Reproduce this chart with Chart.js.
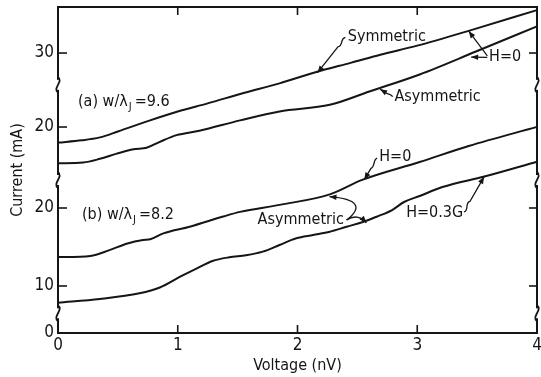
<!DOCTYPE html>
<html>
<head>
<meta charset="utf-8">
<script src="https://cdn.jsdelivr.net/npm/chart.js@4.4.0/dist/chart.umd.min.js"></script>
<style>
  html, body { margin: 0; padding: 0; background: #fff; }
</style>
</head>
<body>
<canvas id="ivChart" width="541" height="377"></canvas>
<script>
// (a) w/lambda_J = 9.6, zero field
const symVolt = [0, 0.2, 0.35, 0.5, 0.75, 1.0, 1.25, 1.55, 1.85, 2.15, 2.45, 2.7, 3.0, 3.45, 4.0];
const symCurr = [17.9, 18.2, 18.6, 19.4, 20.8, 22.1, 23.2, 24.6, 25.9, 27.4, 28.7, 29.8, 31.0, 33.1, 35.8];
const asymVoltA = [0, 0.21, 0.35, 0.49, 0.63, 0.74, 0.85, 0.99, 1.18, 1.52, 1.85, 2.27, 2.6, 3.02, 3.49, 4.0];
const asymCurrA = [15.1, 15.2, 15.7, 16.4, 17.0, 17.2, 18.0, 18.9, 19.5, 20.9, 22.1, 23.0, 24.8, 27.1, 30.2, 33.6];

// (b) w/lambda_J = 8.2, asymmetric junction at H=0 and H=0.3G
const zeroVoltB = [0, 0.27, 0.43, 0.58, 0.71, 0.77, 0.88, 1.1, 1.38, 1.52, 1.85, 2.27, 2.54, 3.02, 3.43, 4.0];
const zeroCurrB = [13.7, 13.85, 14.6, 15.45, 15.9, 16.0, 16.75, 17.6, 18.9, 19.5, 20.4, 21.75, 23.6, 25.9, 27.95, 30.4];
const fieldVoltB = [0, 0.35, 0.68, 0.85, 1.02, 1.16, 1.29, 1.43, 1.57, 1.71, 1.85, 1.99, 2.13, 2.27, 2.41, 2.54, 2.66, 2.79, 2.89, 3.02, 3.21, 3.56, 4.0];
const fieldCurrB = [7.86, 8.33, 9.06, 9.81, 11.19, 12.27, 13.21, 13.68, 13.94, 14.4, 15.26, 16.12, 16.54, 16.96, 17.6, 18.17, 18.88, 19.74, 20.77, 21.54, 22.69, 24.04, 25.94];

// axis ticks
const voltTicks = [0, 1, 2, 3, 4];
const upperTicks = [20, 30];
const lowerTicks = [10, 20];
const lowerBreakLabel = '0';
const upperRightTicks = [30];
const lowerRightTicks = [10, 20];

const ink = '#151515';
const family = "'DejaVu Sans Condensed', 'DejaVu Sans', sans-serif";
const noteSize = 16;

const toPoints = (xs, ys) => xs.map((v, k) => ({ x: v, y: ys[k] }));

const lineStyle = {
  borderColor: ink,
  borderWidth: 2,
  pointRadius: 0,
  fill: false,
  cubicInterpolationMode: 'monotone',
  clip: false
};

// labels with leader arrows, in volts / mA of the given axis
const notes = [
  { axis: 'yTop', v: 2.42, i: 32.15, text: 'Symmetric',
    leaders: [{ from: [2.40, 32.1], tip: [2.167, 27.35], curl: 4 }] },
  { axis: 'yTop', v: 3.6, i: 29.45, text: 'H=0',
    leaders: [{ from: [3.585, 29.6], tip: [3.43, 32.95] }, { from: [3.585, 29.4], tip: [3.45, 29.45] }] },
  { axis: 'yTop', v: 2.81, i: 24.1, text: 'Asymmetric',
    leaders: [{ from: [2.795, 24.1], tip: [2.69, 25.1], curl: 2 }] },
  { axis: 'yBot', v: 2.683, i: 26.5, text: 'H=0',
    leaders: [{ from: [2.665, 26.4], tip: [2.558, 23.65], curl: 3 }] },
  { axis: 'yBot', v: 1.667, i: 18.46, text: 'Asymmetric',
    leaders: [{ from: [2.41, 18.45], via: [2.62, 21.0], tip: [2.267, 21.45] },
              { from: [2.41, 18.45], via: [2.5, 19.4], tip: [2.575, 18.1] }] },
  { axis: 'yBot', v: 2.908, i: 19.36, text: 'H=0.3G',
    leaders: [{ from: [3.39, 19.5], tip: [3.558, 24.0], curl: 4 }] }
];

// where the current axis is broken (left and right edges)
const axisBreaks = [{ axis: 'yTop', value: 25.7 }, { axis: 'yTop', value: 12.84 }, { axis: 'yBot', value: 6.5 }];

function seg(ctx, x1, y1, x2, y2) {
  ctx.beginPath();
  ctx.moveTo(x1, y1);
  ctx.lineTo(x2, y2);
  ctx.stroke();
}

function arrowHead(ctx, from, tip) {
  const ang = Math.atan2(tip.y - from.y, tip.x - from.x);
  const len = 7, half = 2.8;
  const bx = tip.x - len * Math.cos(ang), by = tip.y - len * Math.sin(ang);
  ctx.beginPath();
  ctx.moveTo(tip.x, tip.y);
  ctx.lineTo(bx + half * Math.sin(ang), by - half * Math.cos(ang));
  ctx.lineTo(bx - half * Math.sin(ang), by + half * Math.cos(ang));
  ctx.closePath();
  ctx.fill();
}

function leader(ctx, from, tip, via, curl) {
  ctx.beginPath();
  ctx.moveTo(from.x, from.y);
  let start = from;
  if (curl) {
    const dx = tip.x - from.x, dy = tip.y - from.y, d = Math.hypot(dx, dy);
    const ux = dx / d, uy = dy / d, nx = -uy, ny = ux, c = 12;
    start = { x: from.x + ux * c, y: from.y + uy * c };
    ctx.bezierCurveTo(from.x + ux * c * 0.3 + nx * curl, from.y + uy * c * 0.3 + ny * curl,
                      from.x + ux * c * 0.7 - nx * curl, from.y + uy * c * 0.7 - ny * curl,
                      start.x, start.y);
  }
  if (via) {
    ctx.quadraticCurveTo(via.x, via.y, tip.x, tip.y);
    ctx.stroke();
    arrowHead(ctx, via, tip);
  } else {
    ctx.lineTo(tip.x, tip.y);
    ctx.stroke();
    arrowHead(ctx, start, tip);
  }
}

function axisBreak(ctx, px, py) {
  ctx.fillStyle = '#fff';
  ctx.fillRect(px - 4, py - 5, 8, 10);
  ctx.beginPath();
  ctx.moveTo(px, py - 8);
  ctx.bezierCurveTo(px + 6, py - 3, px - 6, py + 3, px, py + 8);
  ctx.stroke();
  ctx.fillStyle = ink;
}

const decorations = {
  id: 'decorations',
  afterDraw(chart) {
    const { ctx, chartArea: a, scales } = chart;
    const { x } = scales;
    ctx.save();
    ctx.strokeStyle = ink;
    ctx.fillStyle = ink;

    // top and right edges of the frame
    ctx.lineWidth = 2;
    ctx.beginPath();
    ctx.moveTo(a.left - 1, a.top);
    ctx.lineTo(a.right, a.top);
    ctx.lineTo(a.right, a.bottom + 1);
    ctx.stroke();

    // inward tick marks
    ctx.lineWidth = 1.6;
    voltTicks.slice(1, -1).forEach(v => {
      const px = x.getPixelForValue(v);
      seg(ctx, px, a.bottom, px, a.bottom - 8);
      seg(ctx, px, a.top, px, a.top + 8);
    });
    upperTicks.forEach(v => {
      const py = scales.yTop.getPixelForValue(v);
      seg(ctx, a.left, py, a.left + 9, py);
    });
    lowerTicks.forEach(v => {
      const py = scales.yBot.getPixelForValue(v);
      seg(ctx, a.left, py, a.left + 9, py);
    });
    upperRightTicks.forEach(v => {
      const py = scales.yTop.getPixelForValue(v);
      seg(ctx, a.right, py, a.right - 8, py);
    });
    lowerRightTicks.forEach(v => {
      const py = scales.yBot.getPixelForValue(v);
      seg(ctx, a.right, py, a.right - 8, py);
    });

    // axis breaks
    ctx.lineWidth = 1.8;
    axisBreaks.forEach(b => {
      const py = scales[b.axis].getPixelForValue(b.value);
      axisBreak(ctx, a.left, py);
      axisBreak(ctx, a.right, py);
    });

    // current axis title
    ctx.font = '16px ' + family;
    ctx.textAlign = 'center';
    ctx.textBaseline = 'middle';
    ctx.save();
    ctx.translate(18, (a.top + a.bottom) / 2);
    ctx.rotate(-Math.PI / 2);
    ctx.fillText('Current (mA)', 0, 0);
    ctx.restore();

    // panel captions
    ctx.textAlign = 'left';
    [['(a)', 'yTop', 0.167, 23.38, '=9.6'], ['(b)', 'yBot', 0.2, 19.1, '=8.2']].forEach(([tag, axis, v, i, rest]) => {
      let px = x.getPixelForValue(v);
      const py = scales[axis].getPixelForValue(i);
      ctx.font = noteSize + 'px ' + family;
      const head = tag + ' w/\u03bb';
      ctx.fillText(head, px, py);
      px += ctx.measureText(head).width;
      ctx.font = '11px ' + family;
      ctx.fillText('J', px + 1, py + 5);
      px += ctx.measureText('J').width + 4;
      ctx.font = noteSize + 'px ' + family;
      ctx.fillText(rest, px, py);
    });

    // curve labels and their arrows
    ctx.lineWidth = 1.3;
    notes.forEach(n => {
      const ys = scales[n.axis];
      ctx.font = noteSize + 'px ' + family;
      ctx.fillText(n.text, x.getPixelForValue(n.v), ys.getPixelForValue(n.i));
      const pt = p => p && { x: x.getPixelForValue(p[0]), y: ys.getPixelForValue(p[1]) };
      n.leaders.forEach(l => leader(ctx, pt(l.from), pt(l.tip), pt(l.via), l.curl));
    });

    ctx.restore();
  }
};

const tickFont = { family: family, size: 17 };

// keep the plot frame where the layout puts it, without room reserved for end labels
const fixWidth = s => { s.width = 54; s.paddingTop = 0; s.paddingBottom = 0; };

new Chart(document.getElementById('ivChart'), {
  type: 'line',
  data: {
    datasets: [
      { label: 'Symmetric (a)', data: toPoints(symVolt, symCurr), yAxisID: 'yTop', ...lineStyle },
      { label: 'Asymmetric (a)', data: toPoints(asymVoltA, asymCurrA), yAxisID: 'yTop', ...lineStyle },
      { label: 'Asymmetric H=0 (b)', data: toPoints(zeroVoltB, zeroCurrB), yAxisID: 'yBot', ...lineStyle },
      { label: 'Asymmetric H=0.3G (b)', data: toPoints(fieldVoltB, fieldCurrB), yAxisID: 'yBot', ...lineStyle }
    ]
  },
  options: {
    responsive: false,
    animation: false,
    layout: { padding: { left: 4, right: 4, top: 7, bottom: 0 } },
    plugins: { legend: { display: false }, tooltip: { enabled: false } },
    scales: {
      x: {
        type: 'linear',
        min: 0,
        max: 4,
        afterBuildTicks: s => { s.ticks = voltTicks.map(v => ({ value: v })); },
        afterFit: s => { s.height = 44; s.paddingLeft = 0; s.paddingRight = 0; },
        ticks: { color: ink, font: tickFont, padding: 2, maxRotation: 0 },
        grid: { display: false, drawTicks: false },
        border: { color: ink, width: 2 },
        title: { display: true, text: 'Voltage (nV)', color: ink, font: { family: family, size: 16 }, padding: { top: 0, bottom: 2 } }
      },
      // stacked axes are laid out bottom-up, so the lower panel comes first
      yBot: {
        type: 'linear',
        position: 'left',
        stack: 'current',
        stackWeight: 153,
        min: 3.97,
        max: 23.59,
        afterBuildTicks: s => { s.ticks = [{ value: s.min }].concat(lowerTicks.map(v => ({ value: v }))); },
        afterFit: fixWidth,
        ticks: {
          color: ink,
          font: tickFont,
          padding: 4,
          callback: function (value) { return value === this.min ? lowerBreakLabel : value; }
        },
        grid: { display: false, drawTicks: false },
        border: { color: ink, width: 2 }
      },
      yTop: {
        type: 'linear',
        position: 'left',
        stack: 'current',
        stackWeight: 173,
        min: 12.84,
        max: 36.22,
        afterBuildTicks: s => { s.ticks = upperTicks.map(v => ({ value: v })); },
        afterFit: fixWidth,
        ticks: { color: ink, font: tickFont, padding: 4 },
        grid: { display: false, drawTicks: false },
        border: { color: ink, width: 2 }
      }
    }
  },
  plugins: [decorations]
});
</script>
</body>
</html>
